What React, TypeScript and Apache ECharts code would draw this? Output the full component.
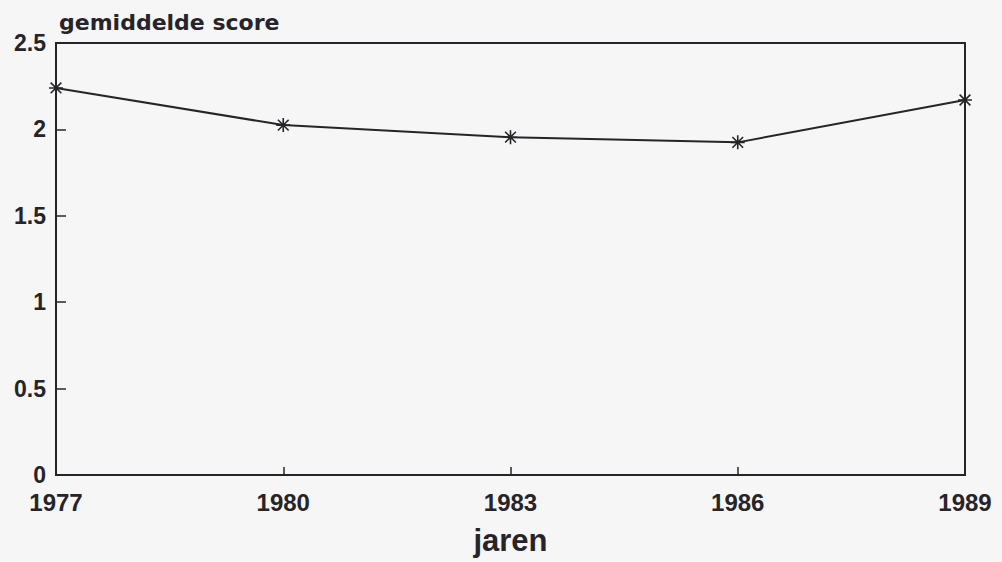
import React, { useEffect, useRef } from "react";
import * as echarts from "echarts";

const years = [1977, 1980, 1983, 1986, 1989];
const scores = [2.24, 2.025, 1.955, 1.925, 2.17];
const yTicks = [0, 0.5, 1, 1.5, 2, 2.5];

const INK = "#262428";
const ASTERISK = "path://M0,-6L0,6M-6,0L6,0M-4.6,-4.6L4.6,4.6M-4.6,4.6L4.6,-4.6";

export default function App() {
  const ref = useRef<HTMLDivElement>(null);
  useEffect(() => {
    if (!ref.current) return;
    const chart = echarts.init(ref.current, null, { renderer: "svg" });
    const digitFont = {
      fontFamily: "Liberation Sans, Arial, sans-serif",
      fontWeight: "bold" as const,
      color: INK,
    };
    chart.setOption({
      animation: false,
      backgroundColor: "#f6f6f6",
      title: {
        text: "gemiddelde score",
        left: 54,
        top: 6,
        textStyle: {
          fontFamily: "DejaVu Sans, sans-serif",
          fontWeight: "bold",
          fontSize: 22,
          color: INK,
        },
      },
      grid: {
        left: 56,
        right: 37,
        top: 43,
        bottom: 87,
        show: true,
        borderColor: INK,
        borderWidth: 2,
        backgroundColor: "transparent",
      },
      xAxis: {
        type: "value",
        min: years[0],
        max: years[years.length - 1],
        interval: 3,
        name: "jaren",
        nameLocation: "middle",
        nameGap: 50,
        nameTextStyle: { ...digitFont, fontSize: 31 },
        axisLine: { show: true, lineStyle: { color: INK, width: 2 } },
        axisTick: { show: true, inside: true, length: 8, lineStyle: { color: INK, width: 1.5 } },
        axisLabel: { ...digitFont, fontSize: 24, margin: 15, formatter: (v: number) => String(v) },
        splitLine: { show: false },
      },
      yAxis: {
        type: "value",
        min: yTicks[0],
        max: yTicks[yTicks.length - 1],
        interval: 0.5,
        axisLine: { show: true, lineStyle: { color: INK, width: 2 } },
        axisTick: { show: true, inside: true, length: 10, lineStyle: { color: INK, width: 1.5 } },
        axisLabel: { ...digitFont, fontSize: 23, margin: 10 },
        splitLine: { show: false },
      },
      series: [
        {
          type: "line",
          data: years.map((y, i) => [y, scores[i]]),
          lineStyle: { color: INK, width: 2 },
          symbol: ASTERISK,
          symbolSize: 14,
          itemStyle: { color: "transparent", borderColor: INK, borderWidth: 1.6 },
          clip: false,
        },
      ],
    });
    return () => chart.dispose();
  }, []);
  return (
    <div
      ref={ref}
      style={{ position: "fixed", left: 0, top: 0, width: 1002, height: 562 }}
    />
  );
}
